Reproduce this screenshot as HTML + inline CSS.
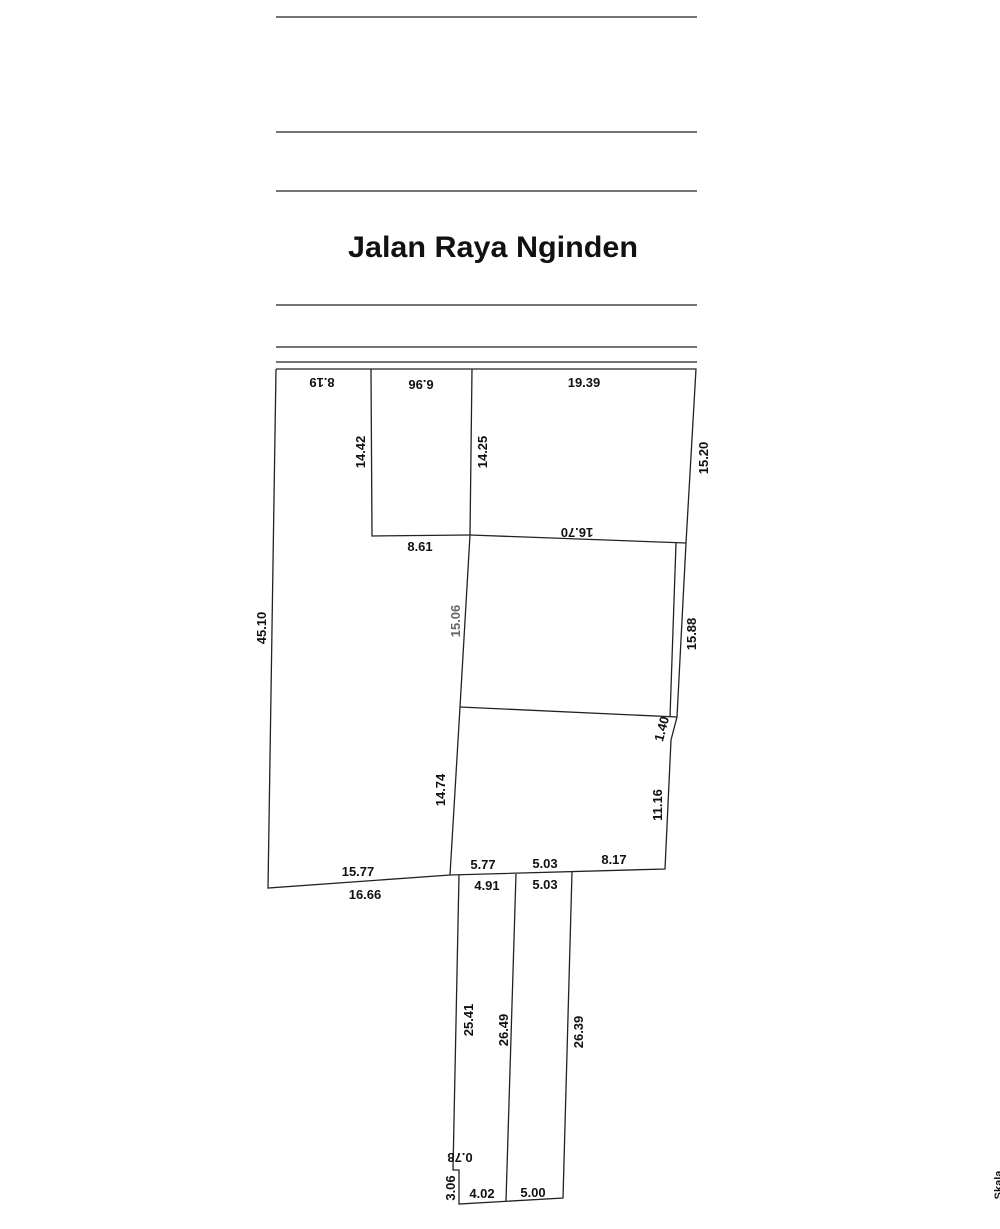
<!DOCTYPE html>
<html><head><meta charset="utf-8"><style>
html,body{margin:0;padding:0;background:#fff;}
svg{display:block;}
text{font-family:"Liberation Sans",sans-serif;font-weight:bold;fill:#111;}
</style></head><body>
<svg width="1000" height="1229" viewBox="0 0 1000 1229" xmlns="http://www.w3.org/2000/svg">
<g stroke="#222" stroke-width="1.3" fill="none">
<line x1="276" y1="17" x2="697" y2="17"/>
<line x1="276" y1="132" x2="697" y2="132"/>
<line x1="276" y1="191" x2="697" y2="191"/>
<line x1="276" y1="305" x2="697" y2="305"/>
<line x1="276" y1="347" x2="697" y2="347"/>
<line x1="276" y1="362" x2="697" y2="362"/>
<polyline points="276,369 696,369 686,543 677,717 671,740 665,869 450,875 268,888 276,369"/>
<polyline points="371,369 372,536 470,535"/>
<polyline points="472,369 470,535 460,707 450,875"/>
<line x1="470" y1="535" x2="686" y2="543"/>
<line x1="676" y1="543" x2="670" y2="717"/>
<line x1="460" y1="707" x2="677" y2="717"/>
<polyline points="459,875 453,1170 459,1170 459,1204 563,1198 572,872"/>
<line x1="516" y1="874" x2="506" y2="1201"/>
</g>
<text x="493" y="257" font-size="30" text-anchor="middle" textLength="290" lengthAdjust="spacingAndGlyphs">Jalan Raya Nginden</text>
<g text-anchor="middle">
<text transform="translate(322,378) rotate(180)" font-size="13">8.19</text>
<text transform="translate(421,380) rotate(180)" font-size="13">6.96</text>
<text transform="translate(577,528) rotate(180)" font-size="13">16.70</text>
<text x="584" y="387" font-size="13">19.39</text>
<text x="420" y="551" font-size="13">8.61</text>
<text x="358" y="876" font-size="13">15.77</text>
<text x="365" y="899" font-size="13">16.66</text>
<text x="483" y="869" font-size="13">5.77</text>
<text x="545" y="868" font-size="13">5.03</text>
<text x="614" y="864" font-size="13">8.17</text>
<text x="487" y="890" font-size="13">4.91</text>
<text x="545" y="889" font-size="13">5.03</text>
<text x="482" y="1198" font-size="13">4.02</text>
<text x="533" y="1197" font-size="13">5.00</text>
<text transform="translate(365,452) rotate(-90)" font-size="13">14.42</text>
<text transform="translate(487,452) rotate(-90)" font-size="13">14.25</text>
<text transform="translate(708,458) rotate(-90)" font-size="13">15.20</text>
<text transform="translate(266,628) rotate(-90)" font-size="13">45.10</text>
<text transform="translate(460,621) rotate(-90)" font-size="13" style="fill:#666">15.06</text>
<text transform="translate(696,634) rotate(-90)" font-size="13">15.88</text>
<text transform="translate(666,730) rotate(-75)" font-size="13">1.40</text>
<text transform="translate(662,805) rotate(-90)" font-size="13">11.16</text>
<text transform="translate(445,790) rotate(-90)" font-size="13">14.74</text>
<text transform="translate(473,1020) rotate(-90)" font-size="13">25.41</text>
<text transform="translate(508,1030) rotate(-90)" font-size="13">26.49</text>
<text transform="translate(583,1032) rotate(-90)" font-size="13">26.39</text>
<text transform="translate(455,1188) rotate(-90)" font-size="13">3.06</text>
<text transform="translate(460,1153) rotate(180)" font-size="13">0.78</text>
<text transform="translate(1002,1185) rotate(-90)" font-size="11">Skala</text>
</g>
</svg>
</body></html>
